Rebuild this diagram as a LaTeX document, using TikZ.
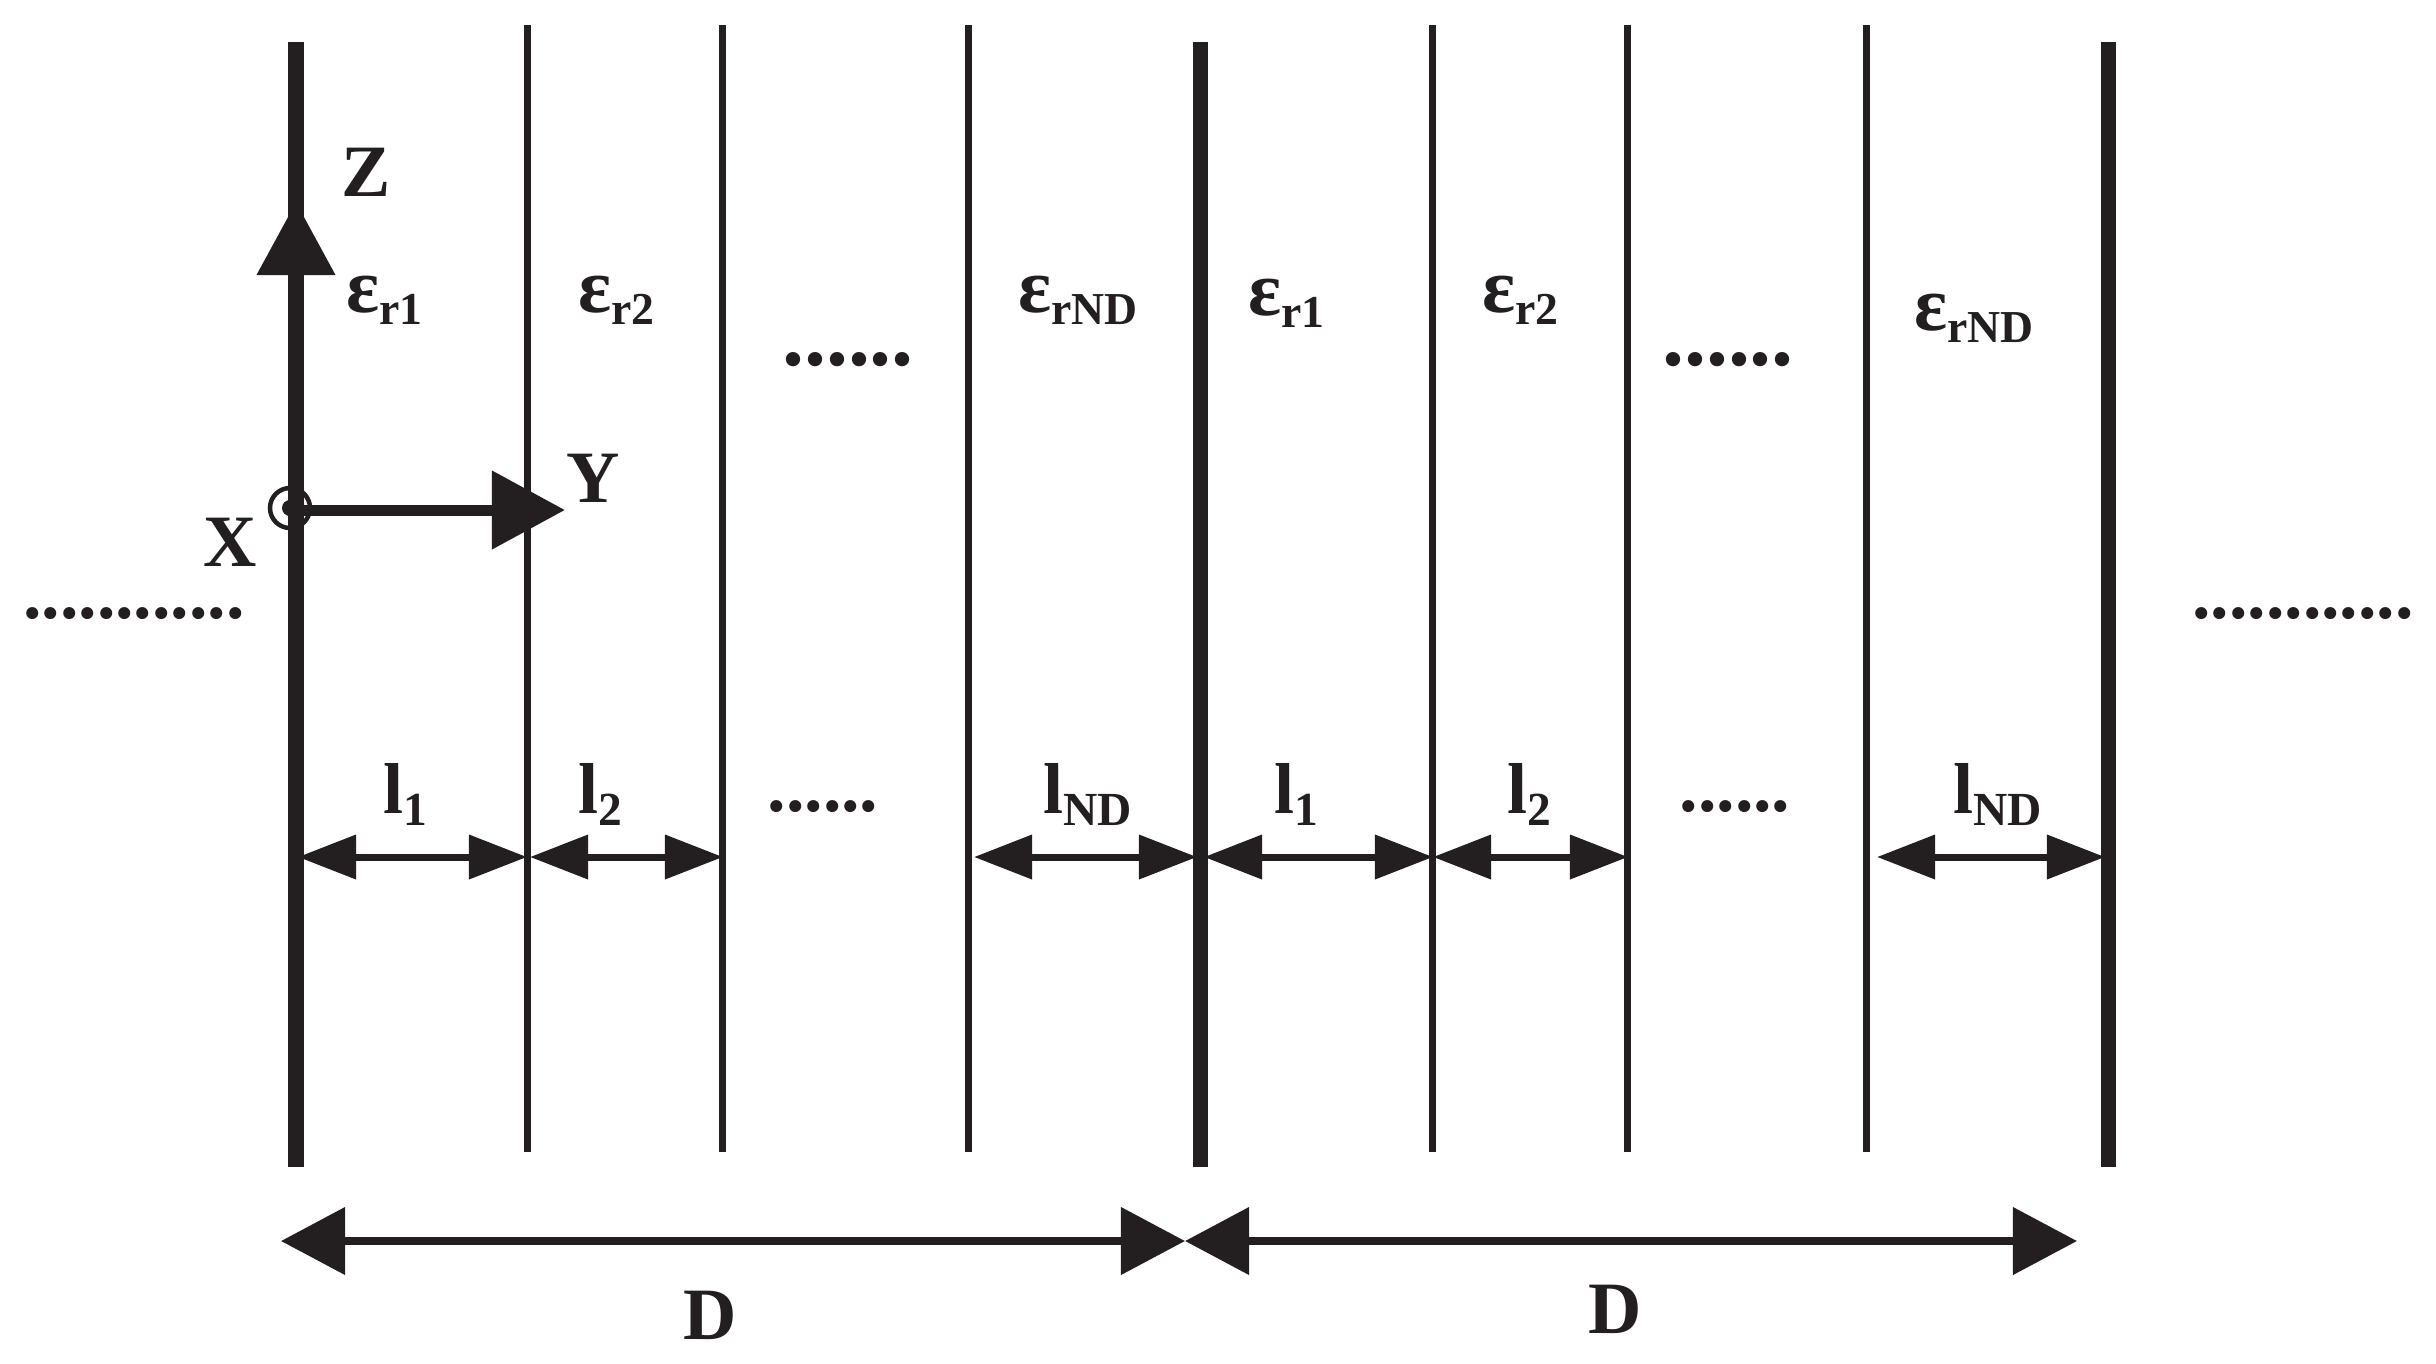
\documentclass[tikz,border=0pt]{standalone}
\usepackage{fontspec}
\setmainfont{Liberation Serif}
\usetikzlibrary{arrows.meta}
\definecolor{ink}{HTML}{231F20}
\newcommand{\subtxt}[2]{{\fontsize{#1}{#1}\selectfont\raisebox{-0.27em}{#2}}}
\newcommand{\epsr}[1]{{\fontsize{22}{22}\selectfont ε}\subtxt{13}{#1}}
\newcommand{\lsub}[1]{{\fontsize{20.5}{20.5}\selectfont l}\subtxt{13.5}{#1}}
\tikzstyle{wall} = [ink, line width=0.15cm]
\tikzstyle{layer} = [ink, line width=0.07cm]
\tikzstyle{axis} = [ink, line width=0.11cm, -{Triangle[length=0.73cm,width=0.76cm]}]
\tikzstyle{gap} = [ink, line width=0.07cm, {Triangle[length=0.58cm,width=0.43cm]}-{Triangle[length=0.58cm,width=0.43cm]}]
\tikzstyle{period} = [ink, line width=0.075cm, {Triangle[length=0.64cm,width=0.66cm]}-{Triangle[length=0.64cm,width=0.66cm]}]
\tikzstyle{lbl} = [ink, font=\bfseries, inner sep=0pt, outer sep=0pt]
\tikzstyle{axlbl} = [lbl, font=\bfseries\fontsize{21}{21}\selectfont]
\tikzstyle{dimlbl} = [lbl, font=\bfseries\fontsize{21}{21}\selectfont]
\tikzstyle{bigdots} = [lbl, font=\bfseries\fontsize{25}{25}\selectfont, anchor=base]
\begin{document}
\begin{tikzpicture}[x=0.01cm,y=-0.01cm]
	\useasboundingbox (0,0) rectangle (2436,1363);
	% thick walls and thin layers
	\foreach \n/\xpos in {a/296,h/1200,p/2108}{
		\coordinate (top\n) at (\xpos,42);
		\coordinate (bot\n) at (\xpos,1167);
		\draw [wall] (top\n) -- (bot\n);
	}
	\foreach \n/\xpos in {b/527,c/722,d/968,i/1432,j/1627,k/1866}{
		\coordinate (top\n) at (\xpos,25);
		\coordinate (bot\n) at (\xpos,1152);
		\draw [layer] (top\n) -- (bot\n);
	}
	% axes
	\coordinate (origin) at (296,510);
	\coordinate (zend) at (296,202);
	\coordinate (yend) at (565,510);
	\draw [axis] (origin) -- (zend);
	\draw [axis] (origin) -- (yend);
	\node (xring) [circle, draw=ink, line width=0.045cm, minimum size=0.40cm, inner sep=0pt] at (290,508) {};
	\node (xdot) [circle, fill=ink, minimum size=0.16cm, inner sep=0pt] at (xring) {};
	\node (zlbl) [axlbl] at (366,172) {Z};
	\node (ylbl) [axlbl] at (593,478) {Y};
	\node (xlbl) [axlbl] at (230,542) {X};
	% permittivity labels
	\node (er1a) [lbl, anchor=base west] at (346,312) {\epsr{r1}};
	\node (er2a) [lbl, anchor=base west] at (578,312) {\epsr{r2}};
	\node (erna) [lbl, anchor=base west] at (1018,312) {\epsr{rND}};
	\node (er1b) [lbl, anchor=base west] at (1248,315) {\epsr{r1}};
	\node (er2b) [lbl, anchor=base west] at (1482,312) {\epsr{r2}};
	\node (ernb) [lbl, anchor=base west] at (1914,330) {\epsr{rND}};
	% dots
	\node (dotsleft) [axlbl, anchor=base] at (134,618) {............};
	\node (dotsright) [axlbl, anchor=base] at (2303,618) {............};
	\node (dotsa) [bigdots] at (848,365) {......};
	\node (dotsb) [bigdots] at (1728,365) {......};
	\node (dotsc) [axlbl, anchor=base] at (823,811) {......};
	\node (dotsd) [axlbl, anchor=base] at (1735,811) {......};
	% thickness labels
	\node (l1a) [lbl, anchor=base west] at (383,813) {\lsub{1}};
	\node (l2a) [lbl, anchor=base west] at (578,813) {\lsub{2}};
	\node (lna) [lbl, anchor=base west] at (1043,813) {\lsub{ND}};
	\node (l1b) [lbl, anchor=base west] at (1274,813) {\lsub{1}};
	\node (l2b) [lbl, anchor=base west] at (1507,813) {\lsub{2}};
	\node (lnb) [lbl, anchor=base west] at (1953,813) {\lsub{ND}};
	% thickness arrows
	\foreach \n/\xa/\xb in {1/298/527,2/530/723,3/974/1197,4/1204/1433,5/1433/1628,6/1877/2105}{
		\coordinate (gapl\n) at (\xa,857);
		\coordinate (gapr\n) at (\xb,857);
		\draw [gap] (gapl\n) -- (gapr\n);
	}
	% period arrows
	\coordinate (pa) at (281,1241);
	\coordinate (pb) at (1185,1241);
	\coordinate (pc) at (2077,1241);
	\draw [period] (pa) -- (pb);
	\draw [period] (pb) -- (pc);
	\node (da) [dimlbl] at (710,1315) {D};
	\node (db) [dimlbl] at (1615,1309) {D};
\end{tikzpicture}
\end{document}
